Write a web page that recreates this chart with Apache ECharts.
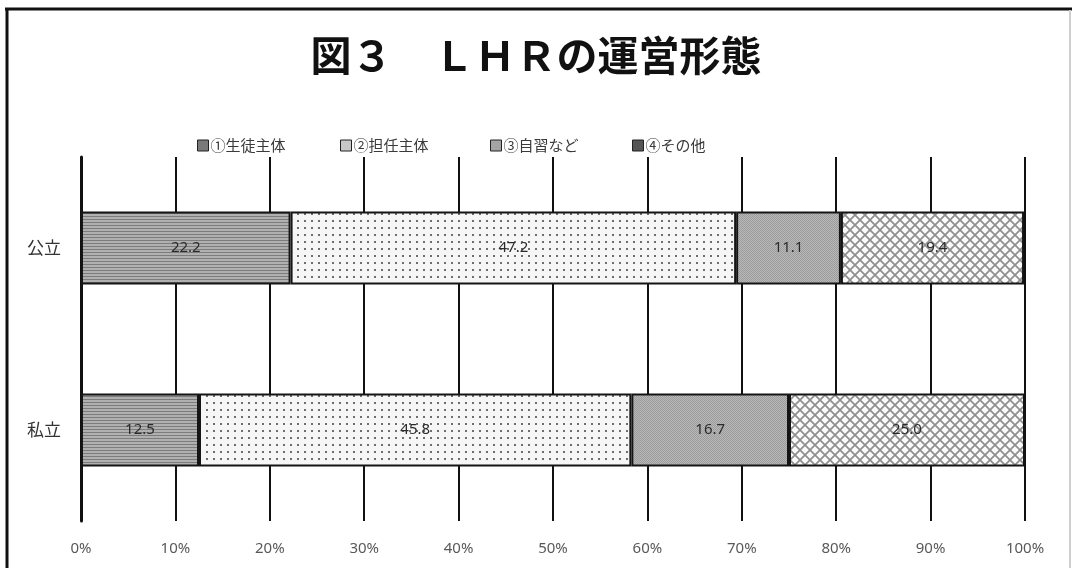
<!DOCTYPE html>
<html>
<head>
<meta charset="utf-8">
<script src="https://cdn.jsdelivr.net/npm/echarts@6/dist/echarts.min.js"></script>
<style>
  html, body { margin: 0; padding: 0; background: #fff; }
  #chart { width: 1072px; height: 568px; }
</style>
</head>
<body>
<div id="chart"></div>
<script>
// Chart data
const titleText = '図３　ＬＨＲの運営形態';
const categories = ['公立', '私立'];
const seriesNames = ['①生徒主体', '②担任主体', '③自習など', '④その他'];
const studentLed = [22.2, 12.5];
const teacherLed = [47.2, 45.8];
const selfStudy = [11.1, 16.7];
const other = [19.4, 25.0];
const seriesValues = [studentLed, teacherLed, selfStudy, other];

// Fill patterns for each series (drawn on small canvases and tiled)
function patternCanvas(w, h, draw) {
  const c = document.createElement('canvas');
  c.width = w; c.height = h;
  draw(c.getContext('2d'), w, h);
  return c;
}
const patterns = [
  // horizontal stripes
  patternCanvas(4, 3, (g, w, h) => {
    g.fillStyle = '#b0b0b0'; g.fillRect(0, 0, w, h);
    g.fillStyle = '#7c7c7c'; g.fillRect(0, 0, w, 1);
  }),
  // sparse dots on near-white
  patternCanvas(7, 7, (g, w, h) => {
    g.fillStyle = '#f6f6f6'; g.fillRect(0, 0, w, h);
    g.fillStyle = '#6e6e6e'; g.fillRect(3, 3, 2, 2);
  }),
  // fine grain medium gray
  patternCanvas(2, 2, (g, w, h) => {
    g.fillStyle = '#b8b8b8'; g.fillRect(0, 0, w, h);
    g.fillStyle = '#9c9c9c'; g.fillRect(0, 0, 1, 1); g.fillRect(1, 1, 1, 1);
  }),
  // diamond crosshatch
  patternCanvas(10, 10, (g, w, h) => {
    g.fillStyle = '#fbfbfb'; g.fillRect(0, 0, w, h);
    g.strokeStyle = '#8e8e8e'; g.lineWidth = 1.7;
    g.beginPath();
    g.moveTo(-1, -1); g.lineTo(w + 1, h + 1);
    g.moveTo(w + 1, -1); g.lineTo(-1, h + 1);
    g.stroke();
  })
];
const legendColors = ['#7a7a7a', '#c8c8c8', '#a4a4a4', '#555555'];
const legendLefts = [192, 335, 485, 627];

const jp = '"Noto Sans CJK JP", "Noto Sans", sans-serif';
const num = '"Noto Sans", sans-serif';

const chart = echarts.init(document.getElementById('chart'), null, { renderer: 'canvas' });

const option = {
  backgroundColor: '#ffffff',
  animation: false,
  title: {
    text: titleText,
    left: 'center',
    top: 30,
    textStyle: { fontFamily: jp, fontSize: 41, fontWeight: 'bold', color: '#111' }
  },
  legend: seriesNames.map((name, i) => ({
    left: legendLefts[i],
    top: 133,
    icon: 'rect',
    itemWidth: 11,
    itemHeight: 11,
    itemGap: 0,
    selectedMode: false,
    textStyle: { fontFamily: jp, fontSize: 15, color: '#3a3a3a', padding: [0, 0, 0, -3] },
    data: [{ name: name, itemStyle: { color: legendColors[i], borderColor: '#222', borderWidth: 1 } }]
  })),
  grid: { left: 81, right: 47, top: 157, bottom: 47, containLabel: false },
  xAxis: {
    type: 'value',
    min: 0,
    max: 100,
    interval: 10,
    axisLine: { show: false },
    axisTick: { show: false },
    axisLabel: {
      formatter: v => v + '%',
      fontFamily: num, fontSize: 15, color: '#595959', margin: 20
    },
    splitLine: { show: true, lineStyle: { color: '#111', width: 2 } }
  },
  yAxis: {
    type: 'category',
    data: categories,
    inverse: true,
    axisLine: { show: true, lineStyle: { color: '#111', width: 3 } },
    axisTick: { show: false },
    axisLabel: { fontFamily: jp, fontSize: 17, color: '#333', margin: 20 },
    splitLine: { show: false }
  },
  series: seriesNames.map((name, i) => ({
    name: name,
    type: 'bar',
    stack: 'total',
    barWidth: '40%',
    data: seriesValues[i],
    itemStyle: {
      color: { image: patterns[i], repeat: 'repeat' },
      borderColor: '#151515',
      borderWidth: 2
    },
    label: {
      show: true,
      position: 'inside',
      formatter: p => Number(p.value).toFixed(1),
      fontFamily: num, fontSize: 15, color: '#2a2a2a'
    }
  })),
  graphic: [
    { type: 'line', shape: { x1: 5, y1: 9, x2: 1072, y2: 9 }, style: { stroke: '#111', lineWidth: 3 }, z: 100 },
    { type: 'line', shape: { x1: 7, y1: 8, x2: 7, y2: 568 }, style: { stroke: '#111', lineWidth: 3 }, z: 100 },
    { type: 'line', shape: { x1: 1070, y1: 10, x2: 1070, y2: 568 }, style: { stroke: '#cfcfcf', lineWidth: 2 }, z: 100 }
  ]
};

chart.setOption(option);
</script>
</body>
</html>
